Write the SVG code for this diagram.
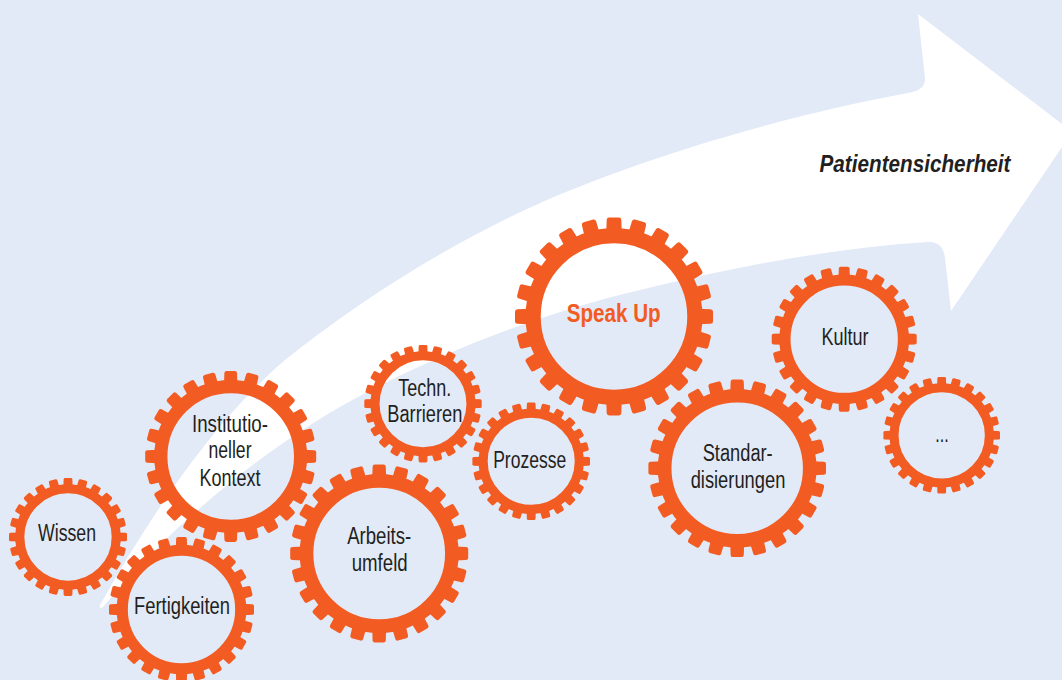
<svg xmlns="http://www.w3.org/2000/svg" width="1062" height="680" viewBox="0 0 1062 680">
<style>
text{font-family:"Liberation Sans",Arial,sans-serif;font-size:23px;fill:#231f20;text-anchor:middle}
.sp{font-weight:bold;font-size:26px;fill:#f25c22}
.pt{font-weight:bold;font-style:italic;font-size:24px}
.gear{fill:#f25c22}
</style>
<defs>
<path id="t" d="M-7.800-85L-7.400-97.500Q-7.200-100-5-100L5-100Q7.200-100 7.400-97.500L7.800-85Z"/>
<g id="q"><use href="#t"/><use href="#t" transform="rotate(15)"/><use href="#t" transform="rotate(30)"/><use href="#t" transform="rotate(45)"/><use href="#t" transform="rotate(60)"/><use href="#t" transform="rotate(75)"/></g>
<g id="gear" class="gear"><use href="#q"/><use href="#q" transform="rotate(90)"/><use href="#q" transform="rotate(180)"/><use href="#q" transform="rotate(270)"/><circle r="81.700" fill="none" stroke="#f25c22" stroke-width="15.400"/></g>
</defs>
<rect width="1062" height="680" fill="#e2eaf7"/>
<path id="arrow" fill="#fff" d="M99 607C150 515 215 420 285 360C345 312 420 262 500 222C590 176 750 122 913 92Q926 88 925 78L918 14L1062 124L1062 147L951 311L945 258Q943 241 928 242C830 248 730 268 640 290C550 311 460 345 377 387C315 418 255 460 200 508C165 538 135 570 102 608Z"/>
<g id="n-wissen"><use href="#gear" transform="translate(68 537) scale(.59)"/><text x="67" y="541" textLength="58" lengthAdjust="spacingAndGlyphs">Wissen</text></g>
<g id="n-institutionell"><use href="#gear" transform="translate(230.700 456.500) scale(.855)"/><text x="230" y="432" textLength="76" lengthAdjust="spacingAndGlyphs">Institutio-</text><text x="230" y="458" textLength="43" lengthAdjust="spacingAndGlyphs">neller</text><text x="230" y="486" textLength="61" lengthAdjust="spacingAndGlyphs">Kontext</text></g>
<g id="n-fertigkeiten"><use href="#gear" transform="translate(181.500 609.500) scale(.725)"/><text x="182" y="614" textLength="96" lengthAdjust="spacingAndGlyphs">Fertigkeiten</text></g>
<g id="n-arbeitsumfeld"><use href="#gear" transform="translate(379.200 553.500) scale(.89)"/><text x="379.200" y="544" textLength="64" lengthAdjust="spacingAndGlyphs">Arbeits-</text><text x="379.700" y="571" textLength="56" lengthAdjust="spacingAndGlyphs">umfeld</text></g>
<g id="n-barrieren"><use href="#gear" transform="translate(423 403.700) scale(.587)"/><text x="424.700" y="395.700" textLength="53" lengthAdjust="spacingAndGlyphs">Techn.</text><text x="424.800" y="422.300" textLength="75" lengthAdjust="spacingAndGlyphs">Barrieren</text></g>
<g id="n-prozesse"><use href="#gear" transform="translate(531.200 461.300) scale(.588)"/><text x="529.700" y="468.300" textLength="73" lengthAdjust="spacingAndGlyphs">Prozesse</text></g>
<g id="n-speakup"><use href="#gear" transform="translate(614 316.500) scale(.99)"/><text class="sp" x="613.700" y="322" textLength="94" lengthAdjust="spacingAndGlyphs">Speak Up</text></g>
<g id="n-standard"><use href="#gear" transform="translate(737.200 468.300) scale(.888)"/><text x="737.700" y="461" textLength="70" lengthAdjust="spacingAndGlyphs">Standar-</text><text x="738" y="487.700" textLength="94.700" lengthAdjust="spacingAndGlyphs">disierungen</text></g>
<g id="n-kultur"><use href="#gear" transform="translate(844.200 339.200) scale(.725)"/><text x="845" y="345" textLength="47" lengthAdjust="spacingAndGlyphs">Kultur</text></g>
<g id="n-more"><use href="#gear" transform="translate(941.700 435.300) scale(.583)"/><text x="942" y="441.700" textLength="13.400" lengthAdjust="spacingAndGlyphs">...</text></g>
<g id="connectors"/>
<text class="pt" x="915" y="171.700" textLength="191" lengthAdjust="spacingAndGlyphs">Patientensicherheit</text>
</svg>
